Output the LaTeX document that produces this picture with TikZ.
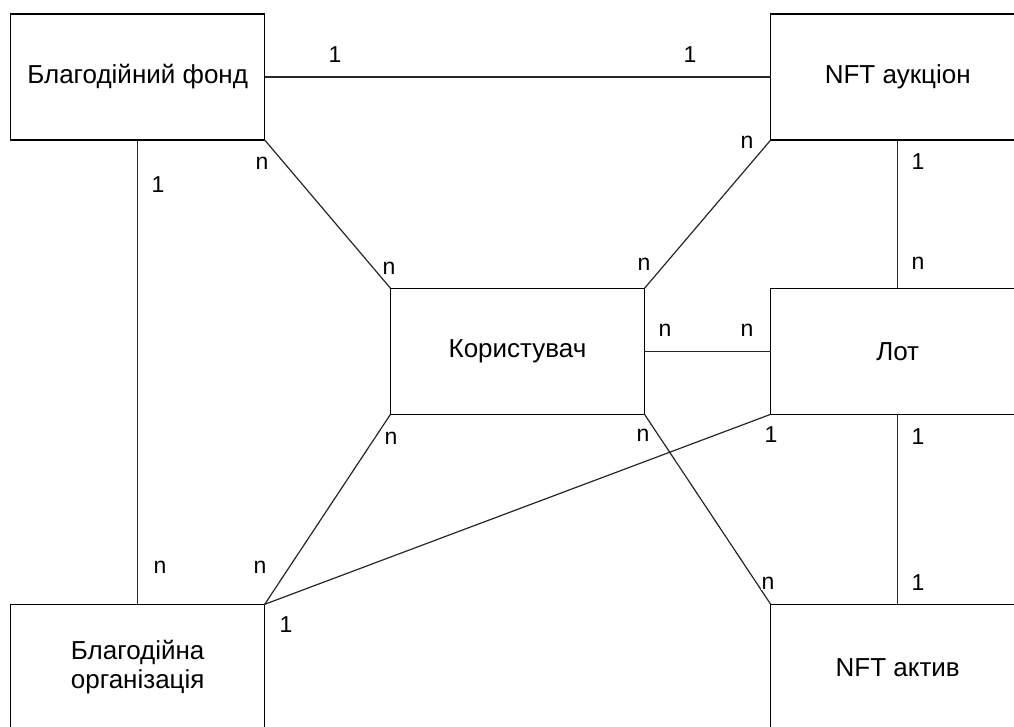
\documentclass[tikz,border=0pt]{standalone}
\usepackage{fontspec}
\setmainfont{Liberation Sans}
\begin{document}
\begin{tikzpicture}[x=1pt,y=-1pt,
  entity/.style={draw, line width=1.5pt, fill=white, minimum width=254pt, minimum height=126pt, outer sep=0pt, inner sep=0pt, align=center, font=\fontsize{26}{29}\selectfont},
  rel/.style={line width=1.2pt, draw=black!85},
  card/.style={fill=white, inner sep=1pt, font=\fontsize{23}{24}\selectfont}]
\useasboundingbox (0,0) rectangle (1014,727);
\clip (0,0) rectangle (1014,727);
\node[entity] (fond) at (137.7,77) {Благодійний фонд};
\node[entity] (auk) at (897.7,77) {NFT аукціон};
\node[entity] (kor) at (517.5,351.3) {Користувач};
\node[entity] (lot) at (897.7,351.3) {Лот};
\node[entity] (org) at (137.7,667.3) {Благодійна\\організація};
\node[entity] (akt) at (897.7,667.3) {NFT актив};
\draw[rel] (fond.east) -- (auk.west);
\draw[rel] (fond.south) -- (org.north);
\draw[rel] (fond.south east) -- (kor.north west);
\draw[rel] (auk.south west) -- (kor.north east);
\draw[rel] (auk.south) -- (lot.north);
\draw[rel] (kor.east) -- (lot.west);
\draw[rel] (lot.south) -- (akt.north);
\draw[rel] (lot.south west) -- (org.north east);
\draw[rel] (kor.south west) -- (org.north east);
\draw[rel] (kor.south east) -- (akt.north west);
\node[card] (c1) at (335,55) {1};
\node[card] (c2) at (690,55) {1};
\node[card] (c3) at (158,185) {1};
\node[card] (c4) at (160,567) {n};
\node[card] (c5) at (262,163) {n};
\node[card] (c6) at (389,268) {n};
\node[card] (c7) at (747,142) {n};
\node[card] (c8) at (644,264) {n};
\node[card] (c9) at (918,162) {1};
\node[card] (c10) at (918,263) {n};
\node[card] (c11) at (665,330) {n};
\node[card] (c12) at (747,330) {n};
\node[card] (c13) at (643,435) {n};
\node[card] (c14) at (771,435) {1};
\node[card] (c15) at (391,438) {n};
\node[card] (c16) at (918,437) {1};
\node[card] (c17) at (918,583) {1};
\node[card] (c18) at (768,583) {n};
\node[card] (c19) at (260,567) {n};
\node[card] (c20) at (286,625) {1};
\end{tikzpicture}
\end{document}
